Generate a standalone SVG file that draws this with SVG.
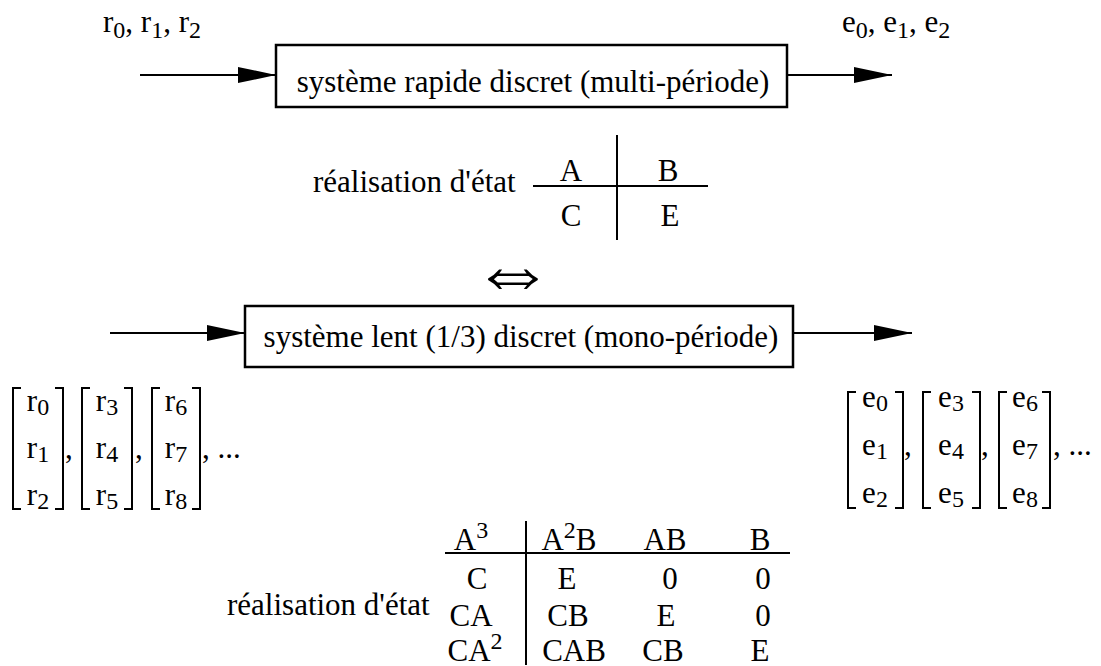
<svg xmlns="http://www.w3.org/2000/svg" width="1101" height="666" viewBox="0 0 1101 666">
<style>
text{font-family:"Liberation Serif","Times New Roman",serif;font-size:31px;fill:#000}
.sub{font-size:24px}
.m{text-anchor:middle}
.ln{stroke:#000;stroke-width:2;fill:none}
.box{stroke:#000;stroke-width:2.5;fill:#fff}
</style>
<defs>
<marker id="ah" markerWidth="38" markerHeight="18" refX="38" refY="9" markerUnits="userSpaceOnUse" orient="auto">
<path d="M0,1 L38,9 L0,17 Z" fill="#000"/>
</marker>
</defs>
<rect width="1101" height="666" fill="#fff"/>

<g id="connectors">
<line class="ln" x1="140" y1="75" x2="276" y2="75" marker-end="url(#ah)"/>
<line class="ln" x1="787" y1="75" x2="892" y2="75" marker-end="url(#ah)"/>
<line class="ln" x1="110" y1="333" x2="245" y2="333" marker-end="url(#ah)"/>
<line class="ln" x1="793" y1="333" x2="912" y2="333" marker-end="url(#ah)"/>
</g>

<g id="input-fast">
<text x="103" y="32">r<tspan class="sub" dy="6">0</tspan><tspan dy="-6">, r</tspan><tspan class="sub" dy="6">1</tspan><tspan dy="-6">, r</tspan><tspan class="sub" dy="6">2</tspan></text>
</g>
<g id="output-fast">
<text x="842" y="32">e<tspan class="sub" dy="6">0</tspan><tspan dy="-6">, e</tspan><tspan class="sub" dy="6">1</tspan><tspan dy="-6">, e</tspan><tspan class="sub" dy="6">2</tspan></text>
</g>

<g id="box-fast">
<rect class="box" x="276" y="45" width="511" height="62"/>
<text class="m" x="533" y="92">système rapide discret (multi-période)</text>
</g>

<g id="realisation-1">
<text x="313" y="192">réalisation d'état</text>
<line class="ln" x1="533" y1="186" x2="708" y2="186"/>
<line class="ln" x1="617" y1="135" x2="617" y2="240"/>
<text class="m" x="571" y="181">A</text>
<text class="m" x="668" y="181">B</text>
<text class="m" x="571" y="226">C</text>
<text class="m" x="670" y="226">E</text>
</g>

<g id="equiv">
<text class="m" x="513" y="299" style="font-family:'DejaVu Sans ExtraLight','DejaVu Sans',sans-serif;font-weight:200;font-size:84px">⇔</text>
</g>

<g id="box-slow">
<rect class="box" x="245" y="306" width="548" height="61"/>
<text class="m" x="521" y="347">système lent (1/3) discret (mono-période)</text>
</g>

<g id="input-slow">
<path class="ln" d="M21,388 H13 V509 H21 M55,388 H63 V509 H55"/>
<path class="ln" d="M90,388 H82 V509 H90 M124,388 H132 V509 H124"/>
<path class="ln" d="M160,388 H152 V509 H160 M192,388 H200 V509 H192"/>
<text class="m" x="38" y="411">r<tspan class="sub" dy="4">0</tspan></text>
<text class="m" x="38" y="458">r<tspan class="sub" dy="4">1</tspan></text>
<text class="m" x="38" y="505">r<tspan class="sub" dy="4">2</tspan></text>
<text class="m" x="107" y="411">r<tspan class="sub" dy="4">3</tspan></text>
<text class="m" x="107" y="458">r<tspan class="sub" dy="4">4</tspan></text>
<text class="m" x="107" y="505">r<tspan class="sub" dy="4">5</tspan></text>
<text class="m" x="176" y="411">r<tspan class="sub" dy="4">6</tspan></text>
<text class="m" x="176" y="458">r<tspan class="sub" dy="4">7</tspan></text>
<text class="m" x="176" y="505">r<tspan class="sub" dy="4">8</tspan></text>
<text x="65" y="458">,</text>
<text x="135" y="458">,</text>
<text x="202" y="458">, ...</text>
</g>

<g id="output-slow">
<path class="ln" d="M856,392 H848 V508 H856 M895,392 H903 V508 H895"/>
<path class="ln" d="M931,392 H923 V508 H931 M972,392 H980 V508 H972"/>
<path class="ln" d="M1007,392 H999 V508 H1007 M1042,392 H1050 V508 H1042"/>
<text class="m" x="875" y="407">e<tspan class="sub" dy="4">0</tspan></text>
<text class="m" x="875" y="455">e<tspan class="sub" dy="4">1</tspan></text>
<text class="m" x="875" y="503">e<tspan class="sub" dy="4">2</tspan></text>
<text class="m" x="951" y="407">e<tspan class="sub" dy="4">3</tspan></text>
<text class="m" x="951" y="455">e<tspan class="sub" dy="4">4</tspan></text>
<text class="m" x="951" y="503">e<tspan class="sub" dy="4">5</tspan></text>
<text class="m" x="1025" y="407">e<tspan class="sub" dy="4">6</tspan></text>
<text class="m" x="1025" y="455">e<tspan class="sub" dy="4">7</tspan></text>
<text class="m" x="1025" y="503">e<tspan class="sub" dy="4">8</tspan></text>
<text x="904" y="455">,</text>
<text x="981" y="455">,</text>
<text x="1053" y="455">, ...</text>
</g>

<g id="realisation-2">
<text x="227" y="615">réalisation d'état</text>
<line class="ln" x1="445" y1="553" x2="790" y2="553"/>
<line class="ln" x1="526" y1="521" x2="526" y2="665"/>
<text class="m" x="471" y="550">A<tspan class="sub" dy="-12">3</tspan></text>
<text class="m" x="569" y="550">A<tspan class="sub" dy="-12">2</tspan><tspan dy="12">B</tspan></text>
<text class="m" x="665" y="550">AB</text>
<text class="m" x="760" y="550">B</text>
<text class="m" x="477" y="589">C</text>
<text class="m" x="567" y="589">E</text>
<text class="m" x="670" y="589">0</text>
<text class="m" x="763" y="589">0</text>
<text class="m" x="471" y="626">CA</text>
<text class="m" x="568" y="626">CB</text>
<text class="m" x="666" y="626">E</text>
<text class="m" x="763" y="626">0</text>
<text class="m" x="475" y="661">CA<tspan class="sub" dy="-12">2</tspan></text>
<text class="m" x="574" y="661">CAB</text>
<text class="m" x="663" y="661">CB</text>
<text class="m" x="760" y="661">E</text>
</g>
</svg>
